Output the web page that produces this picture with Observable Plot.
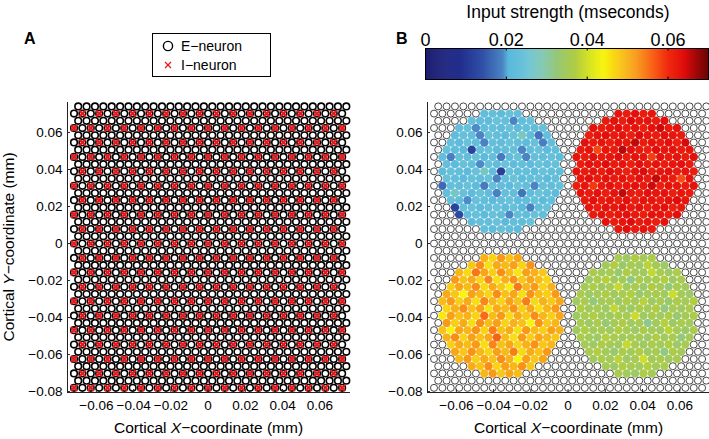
<!DOCTYPE html>
<html><head><meta charset="utf-8">
<script src="https://cdn.jsdelivr.net/npm/d3@7"></script>
<script src="https://cdn.jsdelivr.net/npm/@observablehq/plot@0.6"></script>
<style>
html,body{margin:0;padding:0;background:#fff;overflow:hidden;}
#root{position:relative;width:709px;height:439px;overflow:hidden;font-family:"Liberation Sans",Arial,Helvetica,sans-serif;color:#000;}
.abs{position:absolute;}
</style></head><body><div id="root"></div>
<script>
// ---------- data ----------
const xTicks = [-0.06, -0.04, -0.02, 0, 0.02, 0.04, 0.06];
const yTicks = [-0.08, -0.06, -0.04, -0.02, 0, 0.02, 0.04, 0.06];
const colorTicks = [0, 0.02, 0.04, 0.06];
const colorDomain = [0, 0.07];
const xDomain = [-0.0755, 0.0765];
const yDomain = [-0.0805, 0.0762];
// hexagonal neuron lattice (mm)
const lattice = {x0: -0.072, y0: -0.078, dx: 0.0045, dy: 0.0039, cols: 33, rows: 40};
// stimulated disks (mm)
const diskCenters = [
  {name: "UL", x: -0.036, y: 0.039},
  {name: "UR", x: 0.036, y: 0.039},
  {name: "LL", x: -0.036, y: -0.039},
  {name: "LR", x: 0.036, y: -0.039}
];
const diskRadius = 0.033;
// input strength per neuron, rows top->bottom, left->right, in 1e-4 mseconds
const ulValues = [
 [225,232,218,240,228],
 [236,222,215,244,230,190,226,238],
 [228,240,192,226,235,220,242,218,230,224,236],
 [220,234,226,190,238,228,216,240,275,222,175,230],
 [232,218,240,226,188,236,222,244,228,216,234,185,226],
 [238,224,216,120,232,242,220,228,236,190,226,240,218,230],
 [226,185,236,222,244,218,230,180,224,238,190,232,226,240,220],
 [232,218,240,228,192,236,224,242,220,230,216,238,226,234],
 [220,236,228,214,242,270,226,115,238,222,232,216,240,228,224],
 [240,226,218,234,222,238,188,230,244,220,228,236,214,232],
 [165,230,222,240,216,180,234,226,218,242,228,190,236,222,238],
 [226,270,234,218,240,224,188,236,228,175,220,242,230,216],
 [236,222,192,240,228,218,232,244,220,226,238,216,230],
 [120,230,238,216,226,242,220,234,214,185,228,240],
 [130,224,236,218,240,228,190,232,222,238,226],
 [218,236,228,242,214,230,224,238],
 [232,220,240,226,216]
];
const urValues = [
 [628,620,634,618,626],
 [622,632,616,640,624,630,618,636],
 [630,618,626,636,620,628,614,632,650,622,630],
 [616,628,638,622,630,612,640,624,618,634,626,620],
 [634,620,628,616,632,624,655,618,630,622,636,614,645],
 [620,630,580,626,618,660,632,622,614,636,624,630,618,628],
 [628,616,634,620,626,638,618,630,624,585,632,620,628,616,634],
 [618,632,624,640,620,628,614,636,622,630,618,626,634,620],
 [632,620,628,616,636,624,612,630,642,618,626,634,620,628,616],
 [624,636,618,630,622,628,616,634,620,655,626,618,575,630],
 [616,628,590,620,632,618,626,636,622,650,614,630,624,618,632],
 [630,620,634,616,628,655,622,618,636,624,630,614,626,620],
 [622,634,618,628,620,636,614,630,626,618,632,640,624],
 [628,616,632,624,638,620,630,618,626,634,612,622],
 [620,630,618,626,634,622,616,632,628,620,636],
 [632,618,626,640,620,628,614,630],
 [624,636,618,628,620]
];
const llValues = [
 [500,470,520,485,510],
 [480,530,460,505,490,515,470,525],
 [495,465,548,510,475,530,490,455,515,500,480],
 [520,485,505,470,535,460,500,525,480,510,490,470],
 [475,510,490,530,465,505,480,445,545,495,520,470,500],
 [505,480,440,515,495,470,530,485,510,460,525,490,475,520],
 [490,520,475,505,460,535,495,470,515,485,540,465,500,480,510],
 [470,500,530,485,515,455,505,490,525,475,510,460,495,520],
 [450,515,485,500,470,556,490,520,465,505,480,530,495,475,510],
 [520,475,505,460,530,490,515,470,500,485,440,525,480,495],
 [485,442,510,495,525,470,540,485,505,460,520,490,475,515,500],
 [500,530,470,515,485,505,562,490,460,520,475,510,495,480],
 [475,505,490,520,460,535,485,510,470,500,525,480,495],
 [510,480,525,495,470,515,490,540,465,505,485,520],
 [490,520,475,505,485,530,500,440,515,480,510],
 [505,485,530,470,515,495,525,480],
 [495,520,480,510,490]
];
const lrValues = [
 [355,340,368,350,362],
 [348,372,335,358,345,380,352,340],
 [362,345,355,330,370,350,342,388,356,338,365],
 [340,358,375,346,352,318,364,348,355,372,342,360],
 [352,366,340,355,390,345,360,336,370,350,325,358,346],
 [360,338,352,368,344,356,372,330,350,362,345,395,354,340],
 [345,362,325,350,358,340,366,352,378,344,356,335,364,350,372],
 [368,346,358,340,385,354,336,362,348,370,320,356,344,360],
 [338,355,370,348,342,360,352,395,340,358,346,365,330,352,362],
 [356,342,362,330,354,368,345,358,312,350,375,340,362,348],
 [344,368,350,358,340,372,355,338,364,350,342,380,356,335,360],
 [362,350,338,375,356,344,360,352,340,368,346,358,322,354],
 [350,340,364,352,345,390,356,342,362,348,370,338,358],
 [358,372,345,330,360,350,366,342,355,318,364,350],
 [346,360,352,380,340,356,398,350,362,344,358],
 [352,340,366,355,345,372,348,360],
 [360,348,338,366,352]
];
const diskValues = {UL: ulValues, UR: urValues, LL: llValues, LR: lrValues};
// colormap (as in the colour bar)
const cStops = [0, 0.008, 0.014, 0.019, 0.0205, 0.025, 0.029, 0.033, 0.037, 0.041, 0.044, 0.048, 0.052, 0.056, 0.060, 0.064, 0.067, 0.070];
const cColors = ["#1b1c6e","#1f2a8a","#3050a6","#4a84c4","#5ab8dc","#6cc4d8","#80c8b0","#98c870","#b0cc44","#dce620","#f8f410","#f8c818","#f89a18","#f86418","#f02a10","#e00c0c","#a00808","#6a0404"];

// ---------- build neurons ----------
const font = '"Liberation Sans", Arial, Helvetica, sans-serif';
const L = lattice, u = L.dx / 2;
const neurons = [];
for (let k = 0; k < L.rows; k++) {
  for (let j = 0; j < L.cols; j++) {
    const m = 2 * j + (k & 1);
    const isI = (k % 2 === 0) && (((j - k / 2) % 2 + 2) % 2 === 0);
    neurons.push({m, k, x: L.x0 + m * u, y: L.y0 + k * L.dy, type: isI ? "I" : "E", value: null});
  }
}
for (const c of diskCenters) {
  const mc = Math.round((c.x - L.x0) / u), kc = Math.round((c.y - L.y0) / L.dy);
  const cells = neurons.filter(n => {
    const ddx = (n.m - mc) * u, ddy = (n.k - kc) * L.dy;
    return ddx * ddx + ddy * ddy <= diskRadius * diskRadius;
  });
  const ks = Array.from(new Set(cells.map(n => n.k))).sort((a, b) => b - a);
  const vals = diskValues[c.name];
  ks.forEach((kk, r) => {
    const row = cells.filter(n => n.k === kk).sort((a, b) => a.m - b.m);
    row.forEach((n, i) => { const v = vals[r] && vals[r][i]; if (v != null) n.value = v / 10000; });
  });
}
const iNeurons = neurons.filter(n => n.type === "I");
const stimulated = neurons.filter(n => n.value != null);
const unstimulated = neurons.filter(n => n.value == null);

const cmap = d3.scaleLinear().domain(cStops).range(cColors).interpolate(d3.interpolateRgb).clamp(true);
const colorScale = {type: "linear", domain: colorDomain, interpolate: t => cmap(colorDomain[0] + t * (colorDomain[1] - colorDomain[0]))};
const fmt = d => d === 0 ? "0" : d3.format(".2f")(d);

const root = document.getElementById("root");
function place(el, left, top) { el.classList.add("abs"); el.style.left = left + "px"; el.style.top = top + "px"; root.appendChild(el); return el; }

const frameOpts = {
  width: 360, height: 439, marginLeft: 67, marginRight: 10, marginTop: 102, marginBottom: 47,
  x: {domain: xDomain, axis: null}, y: {domain: yDomain, axis: null},
  style: {fontFamily: font, color: "#000", background: "transparent", overflow: "visible"}
};
function axesMarks() {
  return [
    Plot.axisX({ticks: xTicks, tickSize: 0, tickPadding: 8, fontSize: 13.5, label: null, tickFormat: fmt}),
    Plot.axisY({ticks: yTicks, tickSize: 0, tickPadding: 5, fontSize: 13.5, label: null, tickFormat: fmt}),
    Plot.ruleX([xDomain[0]], {stroke: "#222", strokeWidth: 1}),
    Plot.ruleY([yDomain[0]], {stroke: "#222", strokeWidth: 1}),
    Plot.ruleX(xTicks, {y1: yDomain[0], y2: yDomain[0] + 0.0016, stroke: "#222"}),
    Plot.ruleY(yTicks, {x1: xDomain[0], x2: xDomain[0] + 0.0016, stroke: "#222"})
  ];
}
function addTitle(svg, x, y, pre, it, post, rotate) {
  const t = d3.select(svg).append("text")
    .attr("transform", `translate(${x},${y})` + (rotate ? " rotate(-90)" : ""))
    .attr("text-anchor", "middle").attr("font-size", 15.5).attr("fill", "#000").attr("font-family", font);
  t.append("tspan").text(pre);
  t.append("tspan").attr("font-style", "italic").text(it);
  t.append("tspan").text(post);
}

// Panel A: every neuron drawn as a black ring, inhibitory ones get a red cross
const plotA = Plot.plot({
  ...frameOpts,
  marks: [
    Plot.dot(neurons, {x: "x", y: "y", r: 3.3, stroke: "#000", strokeWidth: 1.6, fill: "none"}),
    Plot.dot(iNeurons, {x: "x", y: "y", symbol: "times", r: 2.9, stroke: "#e41a1c", strokeWidth: 2.3}),
    ...axesMarks()
  ]
});
addTitle(plotA, 208.5, 433, "Cortical ", "X", "\u2212coordinate (mm)", false);
addTitle(plotA, 14, 247, "Cortical ", "Y", "\u2212coordinate (mm)", true);
place(plotA, 0, 0);

// Panel B
const plotB = Plot.plot({
  ...frameOpts,
  color: colorScale,
  marks: [
    Plot.dot(unstimulated, {x: "x", y: "y", r: 3.5, stroke: "#333", strokeWidth: 0.9, fill: "none"}),
    Plot.dot(stimulated, {x: "x", y: "y", r: 4.2, fill: "value"}),
    ...axesMarks()
  ]
});
addTitle(plotB, 208.5, 433, "Cortical ", "X", "\u2212coordinate (mm)", false);
place(plotB, 360, 0);

// Colour bar
const nSlices = 280;
const slices = d3.range(nSlices).map(i => colorDomain[0] + i * (colorDomain[1] - colorDomain[0]) / nSlices);
const sliceW = (colorDomain[1] - colorDomain[0]) / nSlices;
const bar = Plot.plot({
  width: 329, height: 95, marginLeft: 45, marginRight: 1, marginTop: 48, marginBottom: 16,
  x: {domain: colorDomain, axis: null}, y: {domain: [0, 1], axis: null},
  color: colorScale,
  style: {fontFamily: font, color: "#000", background: "transparent", overflow: "visible"},
  marks: [
    Plot.rect(slices, {x1: d => d, x2: d => d + sliceW * 1.6, y1: 0, y2: 1, fill: d => d}),
    Plot.ruleX(colorTicks, {y1: 0, y2: 0.08, stroke: "#000"}),
    Plot.ruleX(colorTicks, {y1: 0.92, y2: 1, stroke: "#000"}),
    Plot.frame({stroke: "#000", strokeWidth: 1}),
    Plot.axisX({anchor: "top", ticks: colorTicks, tickSize: 0, tickPadding: 3, fontSize: 18, label: null, tickFormat: fmt})
  ]
});
place(bar, 380, 0);

const title = document.createElement("div");
title.textContent = "Input strength (mseconds)";
title.style.cssText = "width:300px;text-align:center;font-size:17.5px;line-height:20px;white-space:nowrap;";
place(title, 568 - 150, 2);

// Panel letters
for (const [txt, lx, ly] of [["A", 24, 30], ["B", 396, 30]]) {
  const d = document.createElement("div");
  d.textContent = txt;
  d.style.cssText = "font-weight:bold;font-size:16px;line-height:18px;";
  place(d, lx, ly);
}

// Legend for panel A
const leg = document.createElement("div");
leg.style.cssText = "width:117px;height:42px;border:1px solid #000;background:#fff;";
leg.innerHTML = `<svg width="117" height="42" style="display:block;font-family:${font.replace(/"/g, "'")}">
  <circle cx="15" cy="12" r="4.6" fill="none" stroke="#000" stroke-width="1.4"></circle>
  <path d="M12,28 L18,34 M18,28 L12,34" stroke="#e41a1c" stroke-width="1.3" fill="none"></path>
  <text x="28" y="12" dy="0.35em" font-size="14">E\u2212neuron</text>
  <text x="28" y="31" dy="0.35em" font-size="14">I\u2212neuron</text>
</svg>`;
place(leg, 152, 33);
</script></body></html>
